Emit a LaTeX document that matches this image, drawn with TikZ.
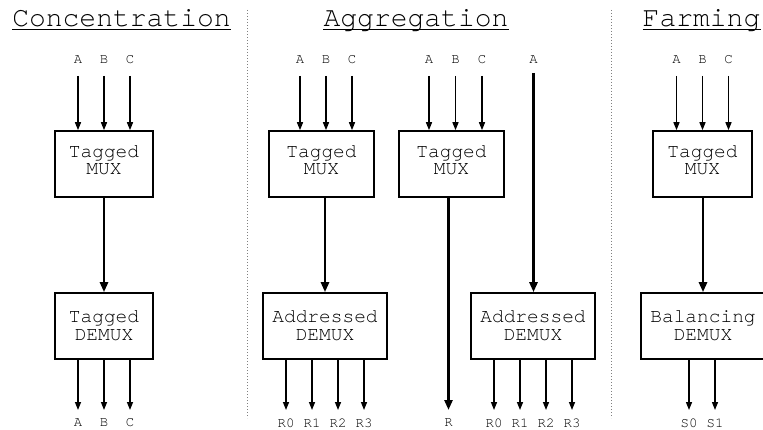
\documentclass[tikz,border=0pt]{standalone}
\usepackage{fontspec}
\setmainfont{TeX Gyre Cursor}
\usetikzlibrary{arrows.meta}

\begin{document}
\begin{tikzpicture}[x=1pt,y=-1pt,
  box/.style={draw, line width=1.6pt, minimum width=#1, minimum height=66pt, inner sep=0pt},
  boxtext/.style={align=center, font=\fontsize{19.5}{17.8}\selectfont, inner sep=0pt},
  title/.style={anchor=base, font=\fontsize{28}{30}\selectfont, inner sep=0pt},
  sig/.style={font=\fontsize{14}{16}\selectfont, inner sep=0pt},
  thinarr/.style={line width=1.4pt, -{Triangle[length=8pt,width=6pt]}},
  thickarr/.style={line width=2.6pt, -{Triangle[length=10pt,width=8pt]}},
  uline/.style={line width=1pt},
  sep/.style={gray, line width=1pt, dash pattern=on 1pt off 2pt},
]
\fill[white] (0,0) rectangle (763,430);
\useasboundingbox (0,0) rectangle (763,430);

% section titles
\node[title] (t1) at (121.5,27) {Concentration};
\node[title] (t2) at (416,27) {Aggregation};
\node[title] (t3) at (701.5,27) {Farming};
\foreach \t in {t1,t2,t3}
  \draw[uline] ([yshift=-2.5pt]\t.base west) -- ([yshift=-2.5pt]\t.base east);

% dotted separators
\draw[sep] (247.5,10) -- (247.5,418);
\draw[sep] (611,10) -- (611,418);

% ---------- Concentration ----------
\node[box=98pt] (cmux) at (104,164) {};
\node[boxtext] (cmuxt) at (104,160.3) {Tagged\\MUX};
\node[box=98pt] (cdem) at (104,326) {};
\node[boxtext] (cdemt) at (104,326) {Tagged\\DEMUX};
\foreach \n/\x/\s in {ca/78/A, cb/104/B, cc/130/C} {
  \node[sig] (\n) at (\x,60) {\s};
  \draw[thinarr] ([yshift=-16pt]\n.center) -- (\n |- cmux.north);
}
\draw[thickarr] (cmux.south) -- (cdem.north);
\foreach \n/\x/\s in {coa/78/A, cob/104/B, coc/130/C} {
  \node[sig] (\n) at (\x,423) {\s};
  \draw[thinarr] (\n |- cdem.south) -- ([yshift=13pt]\n.center);
}

% ---------- Aggregation ----------
\node[box=105pt] (amuxa) at (321.5,164) {};
\node[boxtext] (amuxat) at (321.5,160.3) {Tagged\\MUX};
\node[box=105pt] (amuxb) at (451.5,164) {};
\node[boxtext] (amuxbt) at (451.5,160.3) {Tagged\\MUX};
\node[box=124pt] (adema) at (325,326) {};
\node[boxtext] (ademat) at (325,326) {Addressed\\DEMUX};
\node[box=124pt] (ademb) at (533,326) {};
\node[boxtext] (adembt) at (533,326) {Addressed\\DEMUX};
\foreach \n/\x/\s in {aa/300/A, ab/326/B, ac/352/C} {
  \node[sig] (\n) at (\x,60) {\s};
  \draw[thinarr] ([yshift=-16pt]\n.center) -- (\n |- amuxa.north);
}
\foreach \n/\x/\s in {ba/429/A, bb/455.5/B, bc/482/C} {
  \node[sig] (\n) at (\x,60) {\s};
  \draw[thinarr] ([yshift=-16pt]\n.center) -- (\n |- amuxb.north);
}
\node[sig] (sa) at (533.5,60) {A};
\draw[thickarr] ([yshift=-13pt]sa.center) -- (sa |- ademb.north);
\draw[thickarr] (adema.north |- amuxa.south) -- (adema.north);
\node[sig] (rr) at (448.5,423) {R};
\draw[thickarr] (rr |- amuxb.south) -- ([yshift=13pt]rr.center);
\foreach \n/\x/\s in {ra0/286/R0, ra1/312/R1, ra2/338/R2, ra3/364/R3} {
  \node[sig] (\n) at (\x,423) {\s};
  \draw[thinarr] (\n |- adema.south) -- ([yshift=13pt]\n.center);
}
\foreach \n/\x/\s in {rb0/494/R0, rb1/520/R1, rb2/546/R2, rb3/572/R3} {
  \node[sig] (\n) at (\x,423) {\s};
  \draw[thinarr] (\n |- ademb.south) -- ([yshift=13pt]\n.center);
}

% ---------- Farming ----------
\node[box=99pt] (fmux) at (702.5,164) {};
\node[boxtext] (fmuxt) at (702.5,160.3) {Tagged\\MUX};
\node[box=124pt] (fdem) at (703,326) {};
\node[boxtext] (fdemt) at (703,326) {Balancing\\DEMUX};
\foreach \n/\x/\s in {fa/676.5/A, fb/702.5/B, fc/728.5/C} {
  \node[sig] (\n) at (\x,60) {\s};
  \draw[thinarr] ([yshift=-16pt]\n.center) -- (\n |- fmux.north);
}
\draw[thickarr] (fdem.north |- fmux.south) -- (fdem.north);
\foreach \n/\x/\s in {fs0/689/S0, fs1/715/S1} {
  \node[sig] (\n) at (\x,423) {\s};
  \draw[thinarr] (\n |- fdem.south) -- ([yshift=13pt]\n.center);
}
\end{tikzpicture}
\end{document}
